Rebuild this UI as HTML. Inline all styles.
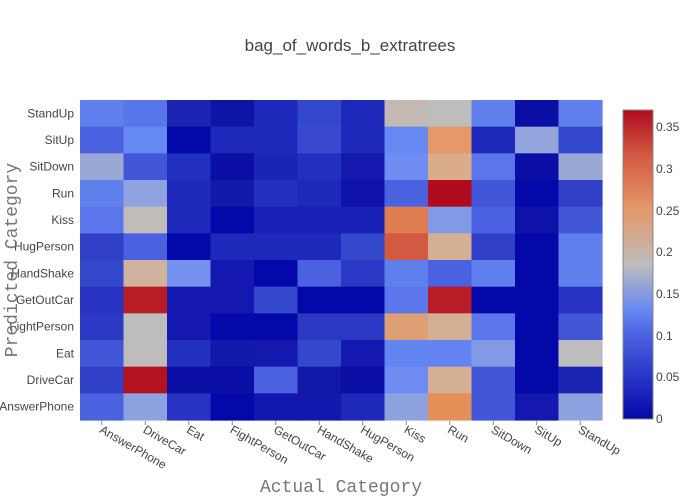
<!DOCTYPE html>
<html><head><meta charset="utf-8"><style>
body{margin:0;background:#fff}
svg{display:block;font-family:"Liberation Sans",sans-serif}
</style></head><body>
<svg id="s" width="700" height="500" xmlns="http://www.w3.org/2000/svg">
<defs><linearGradient id="cb" x1="0" y1="1" x2="0" y2="0">
<stop offset="0" stop-color="#0508a8"/><stop offset="0.27" stop-color="#4a62e0"/>
<stop offset="0.35" stop-color="#6688f2"/><stop offset="0.5" stop-color="#bdbdbd"/>
<stop offset="0.68" stop-color="#e59868"/><stop offset="0.85" stop-color="#d35a42"/>
<stop offset="1" stop-color="#b00b1e"/></linearGradient></defs>
<text x="350" y="51" text-anchor="middle" font-size="17" fill="#444">bag_of_words_b_extratrees</text>
<g id="cells"></g>
<g id="lbl" font-size="12" fill="#444"></g>
<rect x="623" y="110" width="30" height="309" fill="url(#cb)" stroke="#888" stroke-width="1"/>
<g font-size="12" fill="#444">
<text x="656" y="423">0</text><text x="656" y="381">0.05</text><text x="656" y="340">0.1</text>
<text x="656" y="298">0.15</text><text x="656" y="256">0.2</text><text x="656" y="215">0.25</text>
<text x="656" y="173">0.3</text><text x="656" y="131">0.35</text></g>
<text x="341" y="492" text-anchor="middle" font-family="Liberation Mono,monospace" font-size="18" fill="#777">Actual Category</text>
<text transform="translate(17,260) rotate(-90)" text-anchor="middle" font-family="Liberation Mono,monospace" font-size="18" fill="#777">Predicted Category</text>
</svg>
<script>
var C=[
"#5f7fec #5777e8 #1a24b0 #0f14a8 #1e28bb #3448cc #1e28bb #c4b8b3 #bcbebc #5f7fec #0a0ea4 #5f7fec",
"#4a62e0 #6688f2 #0508a8 #1e28bb #1e28bb #3a4ad0 #1e28bb #6688f2 #e59868 #1e28bb #94a5dc #3448cc",
"#9aa8d6 #4257d8 #2230c0 #0a0ea4 #1a24b6 #2230c0 #1418ae #6e8cf2 #d9ad8a #5a76ea #0a0ea4 #9aa8d6",
"#5f7fec #90a2e0 #1e28bb #1218a8 #2230c0 #1e28bb #0e12aa #4a62e0 #b00b1e #4257d8 #0508a8 #3040c6",
"#5a76ea #c0bcb9 #1e28bb #0508a8 #1820b6 #1820b6 #1820b6 #df7e52 #829ae6 #4a62e0 #0e12a8 #4257d8",
"#3040c6 #4a62e0 #0508a8 #1e28bb #1e28bb #1e28bb #3448cc #d35a42 #d4af94 #3040c6 #0508a8 #5f7fec",
"#3448cc #d0b2a0 #7592ee #1418ae #0508a8 #4a62e0 #2a38c4 #5f7fec #4a62e0 #5f7fec #0508a8 #5f7fec",
"#2833c4 #b81c24 #1418ae #1418ae #3448cc #0508a8 #0508a8 #5a76ea #b81c24 #0508a8 #0508a8 #2833c4",
"#2a38c4 #bdbdbd #1418ae #0508a8 #0508a8 #2a38c4 #2a38c4 #df9f74 #d4af94 #5a76ea #0508a8 #4257d8",
"#4257d8 #bdbdbd #2230c0 #1218a8 #1418ae #3448cc #1418ae #6484f2 #6484f2 #829ae6 #0508a8 #bdbdbd",
"#3040c6 #b2141f #0a0ea4 #0a0ea4 #4a62e0 #1218a8 #0a0ea4 #6e8cf2 #d4af94 #4257d8 #0508a8 #1a24b0",
"#4a62e0 #8ea2e0 #2833c4 #0508a8 #1218ae #1218ae #1e28bb #8ea2e0 #e59058 #4257d8 #1418ae #8ea2e0"];
var rows=["StandUp","SitUp","SitDown","Run","Kiss","HugPerson","HandShake","GetOutCar","FightPerson","Eat","DriveCar","AnswerPhone"];
var cols=["AnswerPhone","DriveCar","Eat","FightPerson","GetOutCar","HandShake","HugPerson","Kiss","Run","SitDown","SitUp","StandUp"];
var ns="http://www.w3.org/2000/svg",g=document.getElementById("cells"),L=document.getElementById("lbl");
var x0=80,y0=100,w=522/12,h=320/12;
function el(t,a,p,tx){var e=document.createElementNS(ns,t);for(var k in a)e.setAttribute(k,a[k]);if(tx)e.textContent=tx;p.appendChild(e);}
for(var r=0;r<12;r++){var cs=C[r].split(" ");for(var c=0;c<12;c++)
el("rect",{x:x0+c*w,y:y0+r*h,width:w+0.6,height:h+0.6,fill:cs[c]},g);
el("text",{x:74,y:y0+(r+0.5)*h+4,"text-anchor":"end"},L,rows[r]);}
for(var c=0;c<12;c++){var cx=x0+(c+0.5)*w;
el("line",{x1:cx,x2:cx,y1:421,y2:425,stroke:"#888"},L);
el("text",{transform:"translate("+(cx-3)+",432) rotate(30)"},L,cols[c]);}
</script>
</body></html>
